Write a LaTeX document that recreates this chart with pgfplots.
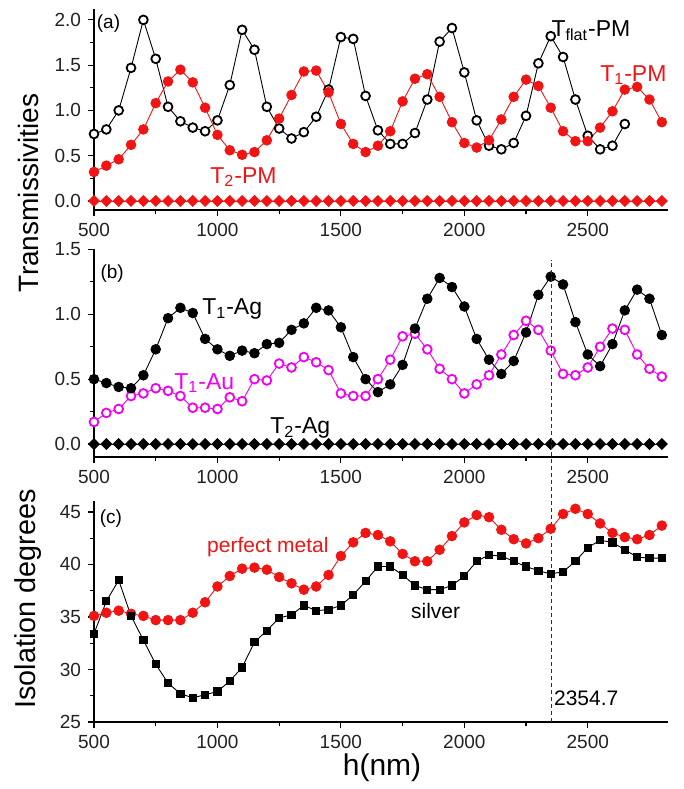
\documentclass[border=0pt]{standalone}
\usepackage{fontspec}
\setmainfont{Liberation Sans}
\usepackage{pgfplots}
\pgfplotsset{compat=1.18}
\definecolor{pmred}{HTML}{F01414}
\definecolor{aumag}{HTML}{F000F0}
\definecolor{dashgray}{HTML}{303030}
\definecolor{ticktext}{HTML}{222222}

\pgfplotsset{
  panel/.style={
    scale only axis, width=287pt, xmin=500, xmax=2825,
    axis x line*=bottom, axis y line*=left,
    axis line style={-, line width=0.7pt},
    xtick={500,1000,...,2500}, minor x tick num=1, minor y tick num=1,
    tick style={line width=0.6pt, black}, tick align=outside,
    major tick length=3pt, minor tick length=1.8pt,
    tick label style={font=\fontsize{9.5}{10}\selectfont, text=ticktext},
    /pgf/number format/assume math mode=true,
    x tick label style={/pgf/number format/1000 sep={}},
    clip=false,
  },
  thinline/.style={line width=0.45pt},
  opencirc/.style={thinline, mark=*, mark size=2.2pt, mark options={fill=white, line width=0.9pt}},
  fullcirc/.style={thinline, mark=*, mark size=2.4pt},
  dia/.style={thinline, mark=square*, mark size=1.9pt, mark options={rotate=45}},
}
\newcommand{\lbl}{\fontsize{11.5}{12}\selectfont}

\begin{document}
\begin{tikzpicture}
\useasboundingbox (0,0) rectangle (342pt,-394.5pt);

% ---- (a)
\begin{axis}[panel, at={(47pt,-105pt)}, anchor=south west, height=100.5pt,
  ymin=-0.1, ymax=2.12, ytick={0,0.5,...,2.0},
  yticklabel style={/pgf/number format/fixed, /pgf/number format/fixed zerofill, /pgf/number format/precision=1}]
\addplot[opencirc, black] coordinates {
 (500,0.74)(550,0.79)(600,1.00)(650,1.47)(700,2.00)(750,1.57)(800,1.04)(850,0.88)(900,0.81)(950,0.77)
 (1000,0.89)(1050,1.28)(1100,1.89)(1150,1.67)(1200,1.04)(1250,0.80)(1300,0.69)(1350,0.76)(1400,0.93)(1450,1.23)
 (1500,1.81)(1550,1.79)(1600,1.16)(1650,0.78)(1700,0.63)(1750,0.63)(1800,0.75)(1850,1.12)(1900,1.76)(1950,1.91)
 (2000,1.42)(2050,0.89)(2100,0.61)(2150,0.57)(2200,0.64)(2250,0.94)(2300,1.52)(2350,1.82)(2400,1.59)(2450,1.12)
 (2500,0.72)(2550,0.57)(2600,0.61)(2650,0.85)};
\addplot[fullcirc, pmred] coordinates {
 (500,0.32)(550,0.39)(600,0.46)(650,0.62)(700,0.79)(750,1.08)(800,1.32)(850,1.45)(900,1.31)(950,1.03)
 (1000,0.73)(1050,0.56)(1100,0.51)(1150,0.54)(1200,0.67)(1250,0.91)(1300,1.17)(1350,1.43)(1400,1.44)(1450,1.20)
 (1500,0.85)(1550,0.63)(1600,0.54)(1650,0.61)(1700,0.77)(1750,1.10)(1800,1.35)(1850,1.40)(1900,1.15)(1950,0.87)
 (2000,0.64)(2050,0.59)(2100,0.67)(2150,0.90)(2200,1.15)(2250,1.34)(2300,1.27)(2350,1.03)(2400,0.77)(2450,0.66)
 (2500,0.66)(2550,0.81)(2600,0.99)(2650,1.23)(2700,1.26)(2750,1.12)(2800,0.87)};
\addplot[dia, pmred] coordinates {
 (500,0)(550,0)(600,0)(650,0)(700,0)(750,0)(800,0)(850,0)(900,0)(950,0)
 (1000,0)(1050,0)(1100,0)(1150,0)(1200,0)(1250,0)(1300,0)(1350,0)(1400,0)(1450,0)
 (1500,0)(1550,0)(1600,0)(1650,0)(1700,0)(1750,0)(1800,0)(1850,0)(1900,0)(1950,0)
 (2000,0)(2050,0)(2100,0)(2150,0)(2200,0)(2250,0)(2300,0)(2350,0)(2400,0)(2450,0)
 (2500,0)(2550,0)(2600,0)(2650,0)(2700,0)(2750,0)(2800,0)};
\node[anchor=west, inner sep=0, font=\fontsize{9.5}{10}\selectfont] at (axis cs:510,1.96) {(a)};
\node[anchor=west, inner sep=0, font=\lbl] at (axis cs:2352,1.88) {T\textsubscript{flat}-PM};
\node[anchor=west, inner sep=0, font=\lbl, text=pmred] at (axis cs:2549,1.39) {T\textsubscript{1}-PM};
\node[anchor=west, inner sep=0, font=\lbl, text=pmred] at (axis cs:970,0.265) {T\textsubscript{2}-PM};
\end{axis}

% ---- (b)
\begin{axis}[panel, at={(47pt,-228.5pt)}, anchor=south west, height=103.8pt,
  ymin=-0.1, ymax=1.5, ytick={0,0.5,...,1.5},
  yticklabel style={/pgf/number format/fixed, /pgf/number format/fixed zerofill, /pgf/number format/precision=1}]
\addplot[opencirc, aumag] coordinates {
 (500,0.17)(550,0.24)(600,0.27)(650,0.37)(700,0.39)(750,0.43)(800,0.41)(850,0.37)(900,0.28)(950,0.28)
 (1000,0.27)(1050,0.36)(1100,0.33)(1150,0.50)(1200,0.49)(1250,0.62)(1300,0.59)(1350,0.67)(1400,0.63)(1450,0.57)
 (1500,0.39)(1550,0.37)(1600,0.37)(1650,0.50)(1700,0.65)(1750,0.83)(1800,0.85)(1850,0.73)(1900,0.58)(1950,0.50)
 (2000,0.39)(2050,0.46)(2100,0.53)(2150,0.69)(2200,0.84)(2250,0.95)(2300,0.88)(2350,0.72)(2400,0.54)(2450,0.53)
 (2500,0.59)(2550,0.75)(2600,0.89)(2650,0.88)(2700,0.69)(2750,0.58)(2800,0.52)};
\addplot[fullcirc, black] coordinates {
 (500,0.50)(550,0.47)(600,0.44)(650,0.43)(700,0.53)(750,0.73)(800,0.97)(850,1.05)(900,1.01)(950,0.81)
 (1000,0.73)(1050,0.68)(1100,0.72)(1150,0.70)(1200,0.77)(1250,0.78)(1300,0.88)(1350,0.93)(1400,1.05)(1450,1.03)
 (1500,0.90)(1550,0.67)(1600,0.50)(1650,0.40)(1700,0.46)(1750,0.61)(1800,0.89)(1850,1.12)(1900,1.28)(1950,1.21)
 (2000,1.06)(2050,0.81)(2100,0.65)(2150,0.54)(2200,0.64)(2250,0.86)(2300,1.15)(2350,1.29)(2400,1.23)(2450,0.94)
 (2500,0.69)(2550,0.60)(2600,0.77)(2650,1.03)(2700,1.19)(2750,1.12)(2800,0.84)};
\addplot[dia, black] coordinates {
 (500,0)(550,0)(600,0)(650,0)(700,0)(750,0)(800,0)(850,0)(900,0)(950,0)
 (1000,0)(1050,0)(1100,0)(1150,0)(1200,0)(1250,0)(1300,0)(1350,0)(1400,0)(1450,0)
 (1500,0)(1550,0)(1600,0)(1650,0)(1700,0)(1750,0)(1800,0)(1850,0)(1900,0)(1950,0)
 (2000,0)(2050,0)(2100,0)(2150,0)(2200,0)(2250,0)(2300,0)(2350,0)(2400,0)(2450,0)
 (2500,0)(2550,0)(2600,0)(2650,0)(2700,0)(2750,0)(2800,0)};
\node[anchor=west, inner sep=0, font=\fontsize{9.5}{10}\selectfont] at (axis cs:525,1.31) {(b)};
\node[anchor=west, inner sep=0, font=\lbl] at (axis cs:937,1.04) {T\textsubscript{1}-Ag};
\node[anchor=west, inner sep=0, font=\lbl, text=aumag] at (axis cs:824,0.47) {T\textsubscript{1}-Au};
\node[anchor=west, inner sep=0, font=\lbl] at (axis cs:1213,0.12) {T\textsubscript{2}-Ag};
\end{axis}

% ---- (c)
\begin{axis}[panel, at={(47pt,-361pt)}, anchor=south west, height=110.3pt,
  ymin=25, ymax=46, ytick={25,30,...,45}]
\draw[dashgray, line width=0.6pt, dash pattern=on 2pt off 1.5pt] (axis cs:2354.7,25) -- (axis cs:2354.7,69);
\addplot[fullcirc, pmred] coordinates {
 (500,35.1)(550,35.4)(600,35.6)(650,35.3)(700,35.1)(750,34.7)(800,34.7)(850,34.7)(900,35.4)(950,36.4)
 (1000,37.9)(1050,38.9)(1100,39.6)(1150,39.7)(1200,39.5)(1250,38.8)(1300,38.2)(1350,37.6)(1400,37.9)(1450,39.0)
 (1500,40.8)(1550,42.1)(1600,43.0)(1650,42.8)(1700,42.2)(1750,41.0)(1800,40.3)(1850,40.3)(1900,41.4)(1950,42.7)
 (2000,44.0)(2050,44.7)(2100,44.5)(2150,43.3)(2200,42.4)(2250,42.0)(2300,42.5)(2350,43.4)(2400,44.8)(2450,45.3)
 (2500,44.8)(2550,43.9)(2600,43.0)(2650,42.6)(2700,42.4)(2750,42.8)(2800,43.7)};
\addplot[thinline, black, mark=square*, mark size=1.8pt] coordinates {
 (500,33.4)(550,36.5)(600,38.5)(650,35.1)(700,32.8)(750,30.5)(800,28.7)(850,27.7)(900,27.3)(950,27.6)
 (1000,27.9)(1050,28.9)(1100,30.2)(1150,32.6)(1200,33.7)(1250,34.9)(1300,35.2)(1350,36.1)(1400,35.6)(1450,35.7)
 (1500,36.1)(1550,37.1)(1600,38.4)(1650,39.8)(1700,39.8)(1750,39.0)(1800,38.0)(1850,37.6)(1900,37.6)(1950,38.0)
 (2000,38.9)(2050,40.3)(2100,40.9)(2150,40.8)(2200,40.3)(2250,39.8)(2300,39.4)(2350,39.1)(2400,39.3)(2450,40.3)
 (2500,41.6)(2550,42.3)(2600,42.1)(2650,41.4)(2700,40.7)(2750,40.6)(2800,40.6)};
\node[anchor=west, inner sep=0, font=\fontsize{9.5}{10}\selectfont] at (axis cs:522,44.4) {(c)};
\node[anchor=west, inner sep=0, font=\fontsize{10.5}{11}\selectfont, text=pmred] at (axis cs:957,41.7) {perfect metal};
\node[anchor=west, inner sep=0, font=\fontsize{10.5}{11}\selectfont] at (axis cs:1783,35.6) {silver};
\node[anchor=west, inner sep=0, font=\fontsize{10.5}{11}\selectfont] at (axis cs:2362,27.3) {2354.7};
\end{axis}

\node[rotate=90, font=\fontsize{14}{15}\selectfont] at (14pt,-96.5pt) {Transmissivities};
\node[rotate=90, font=\fontsize{14.4}{15}\selectfont] at (14pt,-299.5pt) {Isolation degrees};
\node[font=\fontsize{15}{16}\selectfont] at (191pt,-384pt) {h(nm)};
\end{tikzpicture}
\end{document}
